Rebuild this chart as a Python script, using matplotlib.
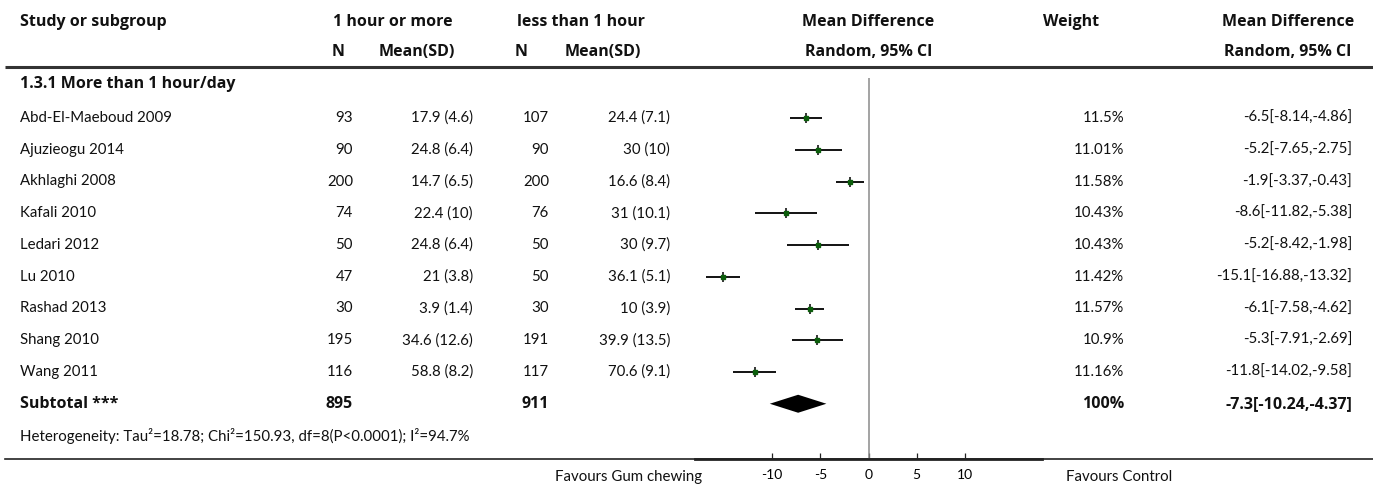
import matplotlib

matplotlib.use("Agg")

import matplotlib.pyplot as plt

plt.rcParams["font.family"] = ["Lato", "DejaVu Sans"]

# study rows
studies = [
    "Abd-El-Maeboud 2009", "Ajuzieogu 2014", "Akhlaghi 2008", "Kafali 2010",
    "Ledari 2012", "Lu 2010", "Rashad 2013", "Shang 2010", "Wang 2011",
]
n_more = [93, 90, 200, 74, 50, 47, 30, 195, 116]
sd_more = ["17.9 (4.6)", "24.8 (6.4)", "14.7 (6.5)", "22.4 (10)", "24.8 (6.4)",
           "21 (3.8)", "3.9 (1.4)", "34.6 (12.6)", "58.8 (8.2)"]
n_less = [107, 90, 200, 76, 50, 50, 30, 191, 117]
sd_less = ["24.4 (7.1)", "30 (10)", "16.6 (8.4)", "31 (10.1)", "30 (9.7)",
           "36.1 (5.1)", "10 (3.9)", "39.9 (13.5)", "70.6 (9.1)"]
md = [-6.5, -5.2, -1.9, -8.6, -5.2, -15.1, -6.1, -5.3, -11.8]
ci_lo = [-8.14, -7.65, -3.37, -11.82, -8.42, -16.88, -7.58, -7.91, -14.02]
ci_hi = [-4.86, -2.75, -0.43, -5.38, -1.98, -13.32, -4.62, -2.69, -9.58]
weights = ["11.5%", "11.01%", "11.58%", "10.43%", "10.43%", "11.42%",
           "11.57%", "10.9%", "11.16%"]

# pooled estimate
total_more = 895
total_less = 911
pooled_md = -7.3
pooled_lo = -10.24
pooled_hi = -4.37
heterogeneity = "Heterogeneity: Tau\u00b2=18.78; Chi\u00b2=150.93, df=8(P<0.0001); I\u00b2=94.7%"
x_ticks = [-10, -5, 0, 5, 10]

W, H = 1373, 487
fig = plt.figure(figsize=(W / 100, H / 100), dpi=100)
ax = fig.add_axes([0, 0, 1, 1])
ax.set_xlim(0, W)
ax.set_ylim(H, 0)
ax.axis("off")

fs = 10.8
col_name = 20
col_n1, col_m1, col_n2, col_m2 = 353, 473, 549, 670
col_w, col_ci = 1124, 1352
forest_l, forest_r = 695, 1042
forest_c = (forest_l + forest_r) / 2

# header
hy1, hy2 = 22, 52
bold = dict(fontsize=11.5, fontweight="bold", va="center", color="#111111",
            family=["Open Sans", "DejaVu Sans"])
ax.text(col_name, hy1, "Study or subgroup", ha="left", **bold)
ax.text(393, hy1, "1 hour or more", ha="center", **bold)
ax.text(581, hy1, "less than 1 hour", ha="center", **bold)
ax.text(forest_c, hy1, "Mean Difference", ha="center", **bold)
ax.text(1071, hy1, "Weight", ha="center", **bold)
ax.text(1288, hy1, "Mean Difference", ha="center", **bold)
ax.text(338, hy2, "N", ha="center", **bold)
ax.text(417, hy2, "Mean(SD)", ha="center", **bold)
ax.text(521, hy2, "N", ha="center", **bold)
ax.text(603, hy2, "Mean(SD)", ha="center", **bold)
ax.text(forest_c, hy2, "Random, 95% CI", ha="center", **bold)
ax.text(1288, hy2, "Random, 95% CI", ha="center", **bold)
ax.plot([5, W], [67, 67], color="#333333", lw=2.2, solid_capstyle="butt")

ax.text(col_name, 84, "1.3.1 More than 1 hour/day", ha="left", **bold)

row_y0, row_h = 118, 31.75
reg = dict(fontsize=fs, va="center", color="#111111")
for i, name in enumerate(studies):
    y = row_y0 + i * row_h
    ax.text(col_name, y, name, ha="left", **reg)
    ax.text(col_n1, y, str(n_more[i]), ha="right", **reg)
    ax.text(col_m1, y, sd_more[i], ha="right", **reg)
    ax.text(col_n2, y, str(n_less[i]), ha="right", **reg)
    ax.text(col_m2, y, sd_less[i], ha="right", **reg)
    ax.text(col_w, y, weights[i], ha="right", **reg)
    ax.text(col_ci, y, f"{md[i]}[{ci_lo[i]},{ci_hi[i]}]", ha="right", **reg)

sub_y = row_y0 + len(studies) * row_h
ax.text(col_name, sub_y, "Subtotal ***", ha="left", **bold)
ax.text(col_n1, sub_y, str(total_more), ha="right", **bold)
ax.text(col_n2, sub_y, str(total_less), ha="right", **bold)
ax.text(col_w, sub_y, "100%", ha="right", **bold)
ax.text(col_ci, sub_y, f"{pooled_md}[{pooled_lo},{pooled_hi}]", ha="right", **bold)

het_y = sub_y + row_h
ax.text(col_name, het_y, heterogeneity, ha="left", **reg)

axis_y = 459
ax.plot([5, W], [axis_y, axis_y], color="#222222", lw=1.2)
ax.text(702, 477, "Favours Gum chewing", ha="right", **reg)
ax.text(1066, 477, "Favours Control", ha="left", **reg)

# forest panel: x in mean-difference units, y shares pixel rows
fax = fig.add_axes([forest_l / W, 0, (forest_r - forest_l) / W, 1])
fax.set_xlim(-18, 18)
fax.set_ylim(H, 0)
fax.patch.set_alpha(0)
for side in ("top", "left", "right"):
    fax.spines[side].set_visible(False)
fax.spines["bottom"].set_position(("data", axis_y))
fax.spines["bottom"].set_linewidth(2)
fax.spines["bottom"].set_color("#222222")
fax.set_yticks([])
fax.set_xticks(x_ticks)
fax.set_xticklabels([str(t) for t in x_ticks], fontsize=10)
fax.tick_params(axis="x", direction="in", length=4, width=0.9, pad=7,
                color="#222222")

fax.vlines(0, 78, axis_y, color="#8a8a8a", lw=1.1)

for i in range(len(studies)):
    y = row_y0 + i * row_h
    fax.hlines(y, ci_lo[i], ci_hi[i], color="black", lw=1.3)
    fax.vlines(md[i], y - 5, y + 5, color="black", lw=1.1)
    fax.plot(md[i], y, marker="s", ms=3.5, color="#0b5d0b", mec="#0b5d0b")

fax.fill([pooled_lo, pooled_md, pooled_hi, pooled_md],
         [sub_y, sub_y - 9, sub_y, sub_y + 9], color="black", lw=0)

fig.savefig("out.png", dpi=100)
